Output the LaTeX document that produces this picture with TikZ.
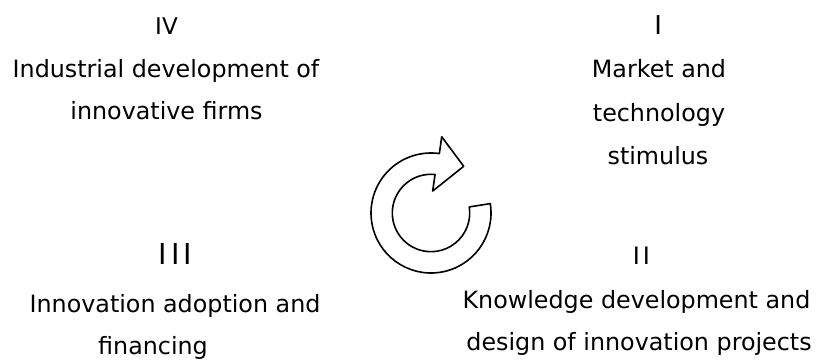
\documentclass[tikz,border=0pt]{standalone}
\usepackage{fontspec}
\setmainfont{DejaVu Sans}
\usepackage{tikz}
\tikzset{
    stage-num/.style = {anchor=base, inner sep=0pt},
    stage-text/.style = {anchor=base, inner sep=0pt, font=\fontsize{23.8}{44}\selectfont},
    cycle-arrow/.style = {draw=black, fill=white, line width=1.6pt, line join=round},
}

\begin{document}
\begin{tikzpicture}[x=1pt,y=1pt]
\useasboundingbox (0,0) rectangle (817,359);
\node[stage-num, font=\fontsize{23}{28}\selectfont] (num-iv) at (166.5,324.7) {IV};
\node[stage-text] (iv-a) at (166,281.7) {Industrial development of};
\node[stage-text] (iv-b) at (166.5,239) {innovative firms};
\node[stage-num, font=\fontsize{26}{28}\selectfont] (num-i) at (658.3,324) {I};
\node[stage-text] (i-a) at (659,281.7) {Market and};
\node[stage-text] (i-b) at (659,237.3) {technology};
\node[stage-text] (i-c) at (658,194) {stimulus};
\node[stage-num, font=\fontsize{28.8}{30}\selectfont\addfontfeature{LetterSpace=14}] (num-iii) at (175.5,94) {III};
\node[stage-text] (iii-a) at (175,46.7) {Innovation adoption and};
\node[stage-text] (iii-b) at (153,4.5) {financing};
\node[stage-num, font=\fontsize{24}{28}\selectfont\addfontfeature{LetterSpace=12}] (num-ii) at (641.5,94.7) {II};
\node[stage-text] (ii-a) at (636.5,50) {Knowledge development and};
\node[stage-text] (ii-b) at (639,9) {design of innovation projects};
\coordinate (hub) at (431,146);
\draw[cycle-arrow, shift={(hub)}] (9:60) arc[start angle=9, end angle=-278, radius=60pt]
    -- (82:77) -- (55:57) -- (85.6:22) -- (84:38.7)
    arc[start angle=84, end angle=369, radius=38.7pt] -- cycle;
\end{tikzpicture}
\end{document}
